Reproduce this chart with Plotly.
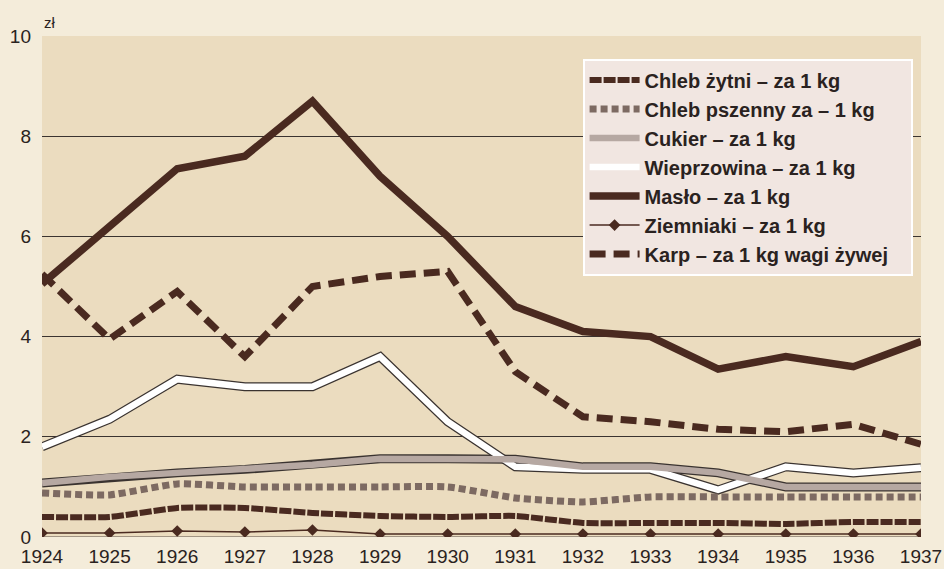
import plotly.graph_objects as go

years = list(range(1924, 1938))

chleb_zytni = [0.40, 0.40, 0.58, 0.58, 0.48, 0.42, 0.40, 0.42, 0.28, 0.28, 0.28, 0.26, 0.30, 0.30]
chleb_pszenny = [0.88, 0.84, 1.06, 1.00, 1.00, 1.00, 1.00, 0.78, 0.70, 0.80, 0.80, 0.80, 0.80, 0.80]
cukier = [1.08, 1.20, 1.28, 1.35, 1.44, 1.56, 1.56, 1.55, 1.40, 1.40, 1.28, 1.00, 1.00, 1.00]
wieprzowina = [1.80, 2.35, 3.15, 3.00, 3.00, 3.60, 2.30, 1.40, 1.35, 1.35, 0.94, 1.40, 1.28, 1.38]
maslo = [5.05, 6.20, 7.35, 7.60, 8.70, 7.20, 6.00, 4.60, 4.10, 4.00, 3.35, 3.60, 3.40, 3.90]
ziemniaki = [0.08, 0.08, 0.12, 0.10, 0.14, 0.06, 0.06, 0.06, 0.06, 0.06, 0.06, 0.06, 0.06, 0.06]
karp = [5.25, 3.95, 4.90, 3.60, 5.00, 5.20, 5.30, 3.30, 2.40, 2.30, 2.15, 2.10, 2.25, 1.85]

names = [
    "Chleb żytni – za 1 kg",
    "Chleb pszenny za – 1 kg",
    "Cukier – za 1 kg",
    "Wieprzowina – za 1 kg",
    "Masło – za 1 kg",
    "Ziemniaki – za 1 kg",
    "Karp – za 1 kg wagi żywej\u00a0\u00a0\u00a0",
]

y_ticks = [0, 2, 4, 6, 8, 10]

dark = "#4a2a20"
fig = go.Figure()

# outlines (no legend)
fig.add_trace(go.Scatter(x=years, y=cukier, mode="lines", line=dict(color="#3a3330", width=9),
                         showlegend=False, hoverinfo="skip", legendgroup="c"))
fig.add_trace(go.Scatter(x=years, y=wieprzowina, mode="lines", line=dict(color="#3a3330", width=9),
                         showlegend=False, hoverinfo="skip", legendgroup="w"))

fig.add_trace(go.Scatter(x=years, y=wieprzowina, mode="lines", name=names[3], legendgroup="w",
                         legendrank=4, line=dict(color="#ffffff", width=6.5)))
fig.add_trace(go.Scatter(x=years, y=cukier, mode="lines", name=names[2], legendgroup="c",
                         legendrank=3, line=dict(color="#b6a8a2", width=6.5)))
fig.add_trace(go.Scatter(x=years, y=chleb_pszenny, mode="lines", name=names[1], legendgroup="p",
                         legendrank=2, line=dict(color="#7d6a62", width=7, dash="7px,4px", shape="spline", smoothing=0.5)))
fig.add_trace(go.Scatter(x=years, y=chleb_zytni, mode="lines", name=names[0], legendgroup="z",
                         legendrank=1, line=dict(color=dark, width=6, dash="12px,2px", shape="spline", smoothing=0.5)))
fig.add_trace(go.Scatter(x=years, y=ziemniaki, mode="lines+markers", name=names[5], legendgroup="zi",
                         legendrank=6, line=dict(color=dark, width=1.5),
                         marker=dict(symbol="diamond", size=9, color=dark)))
fig.add_trace(go.Scatter(x=years, y=karp, mode="lines", name=names[6], legendgroup="k",
                         legendrank=7, line=dict(color=dark, width=7, dash="16px,8px")))
fig.add_trace(go.Scatter(x=years, y=maslo, mode="lines", name=names[4], legendgroup="m",
                         legendrank=5, line=dict(color=dark, width=7.5)))

fig.update_layout(
    width=944, height=569,
    margin=dict(l=42, r=23, t=36, b=32, autoexpand=False),
    paper_bgcolor="#f4ecda",
    plot_bgcolor="#ebdcbf",
    font=dict(family="Liberation Sans, Arial, sans-serif", color="#2a2220", size=19),
    xaxis=dict(range=[1924, 1937], tickvals=years, ticktext=[str(y) for y in years],
               showgrid=False, zeroline=False, showline=False, ticklabelstandoff=6,
               automargin=False, tickfont=dict(size=19, color="#2a2220")),
    yaxis=dict(range=[0, 10], tickvals=y_ticks, showgrid=True, gridcolor="#3a3330", gridwidth=1,
               zeroline=False, showline=False, ticklabelstandoff=10, automargin=False,
               tickfont=dict(size=19, color="#2a2220")),
    legend=dict(x=0.615, y=0.955, xanchor="left", yanchor="top", bgcolor="#f1e6e1",
                bordercolor="#ffffff", borderwidth=2, traceorder="grouped", tracegroupgap=0,
                itemwidth=50,
                font=dict(size=20, color="#2a2220", family="Liberation Sans, Arial, sans-serif",
                          weight="bold")),
    annotations=[dict(text="zł", x=0, y=1, xref="paper", yref="paper", xanchor="left", yanchor="bottom",
                      yshift=3, showarrow=False, font=dict(size=15, color="#2a2220"))],
    showlegend=True,
)
fig.add_shape(type="line", xref="paper", yref="y", x0=0, x1=1, y0=0, y1=0,
              line=dict(color="#8a7e70", width=1.5), layer="below")

fig.write_html("out.html", config={"displayModeBar": False},
               post_script="document.body.style.margin='0';document.body.style.overflow='hidden';")
